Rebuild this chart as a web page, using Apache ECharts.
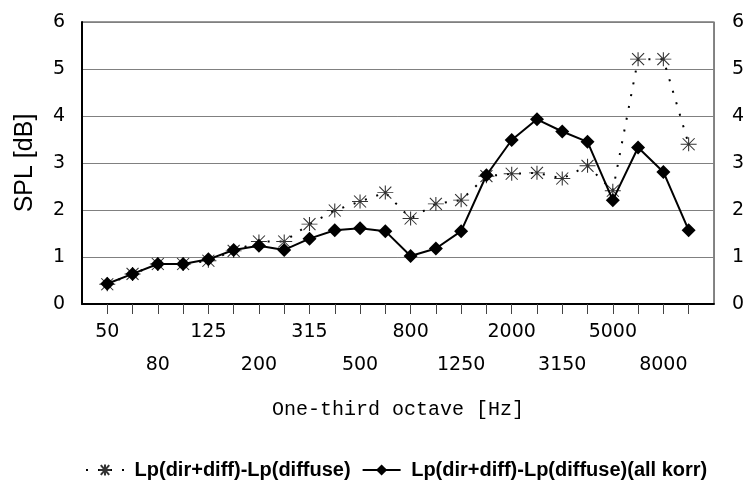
<!DOCTYPE html>
<html>
<head>
<meta charset="utf-8">
<script src="https://cdn.jsdelivr.net/npm/echarts@6/dist/echarts.min.js"></script>
<style>
  html, body { margin: 0; padding: 0; background: #fff; }
  #chart { width: 747px; height: 484px; }
</style>
</head>
<body>
<div id="chart"></div>
<script>
// One-third octave band centre frequencies [Hz]
const bands = ['50', '63', '80', '100', '125', '160', '200', '250', '315', '400', '500', '630',
  '800', '1000', '1250', '1600', '2000', '2500', '3150', '4000', '5000', '6300', '8000', '10000'];

// Level difference Lp(dir+diff) - Lp(diffuse) [dB]
const diffuseDelta = [0.42, 0.64, 0.85, 0.85, 0.92, 1.13, 1.33, 1.33, 1.70, 1.99, 2.18, 2.37,
  1.82, 2.13, 2.21, 2.72, 2.77, 2.79, 2.67, 2.94, 2.41, 5.21, 5.21, 3.40];

// Same difference with all corrections applied [dB]
const correctedDelta = [0.43, 0.64, 0.85, 0.85, 0.95, 1.15, 1.24, 1.15, 1.39, 1.57, 1.61, 1.55,
  1.02, 1.18, 1.55, 2.74, 3.49, 3.93, 3.67, 3.45, 2.21, 3.33, 2.81, 1.57];

const seriesNames = ['Lp(dir+diff)-Lp(diffuse)', 'Lp(dir+diff)-Lp(diffuse)(all korr)'];

// Axis carries an empty slot on each side so the bands sit inside the frame
const axisCats = [''].concat(bands, [' ']);
const lastSlot = axisCats.length - 1;

const toPoints = vals => vals.map((v, i) => [i + 1, v]);

// Eight-armed asterisk marker
const starPath = 'path://M0,7L16,7M8,0L8,14M2,1L14,13M14,1L2,13';

const tickFont = { fontFamily: 'DejaVu Sans', fontSize: 19, color: '#000' };

const chart = echarts.init(document.getElementById('chart'));
chart.setOption({
  animation: false,
  backgroundColor: '#fff',
  grid: {
    left: 82, right: 29, top: 22, bottom: 180,
    show: true, borderColor: '#333', borderWidth: 1
  },
  legend: {
    left: 80, top: 455,
    itemWidth: 38, itemHeight: 14, itemGap: 11,
    formatter: n => ' ' + n,
    textStyle: { fontFamily: 'Liberation Sans', fontWeight: 'bold', fontSize: 20, color: '#000' },
    data: seriesNames
  },
  xAxis: {
    type: 'category',
    data: axisCats,
    boundaryGap: false,
    axisLine: { lineStyle: { color: '#000', width: 2 } },
    axisTick: {
      interval: i => i > 0 && i < lastSlot,
      length: 10,
      lineStyle: { color: '#444', width: 1 }
    },
    axisLabel: Object.assign({}, tickFont, {
      interval: i => i > 0 && i < lastSlot && (i - 1) % 2 === 0,
      hideOverlap: false,
      margin: 12,
      lineHeight: 33,
      formatter: (v, i) => (((i - 1) / 2) % 2 === 1 ? '\n' + v : v)
    }),
    splitLine: { show: false },
    name: 'One-third octave [Hz]',
    nameLocation: 'middle',
    nameGap: 96,
    nameTextStyle: { fontFamily: 'Liberation Mono', fontSize: 20, color: '#000' }
  },
  yAxis: [
    {
      type: 'value', min: 0, max: 6, interval: 1,
      axisLine: { show: true, lineStyle: { color: '#000', width: 2 } },
      axisTick: { show: false },
      axisLabel: Object.assign({ margin: 17 }, tickFont),
      splitLine: { show: true, lineStyle: { color: '#808080', width: 1 } },
      name: 'SPL [dB]',
      nameLocation: 'middle',
      nameRotate: 90,
      nameGap: 44,
      nameTextStyle: { fontFamily: 'Liberation Sans', fontSize: 25, color: '#000' }
    },
    {
      type: 'value', min: 0, max: 6, interval: 1, position: 'right',
      axisLine: { show: true, lineStyle: { color: '#808080', width: 1 } },
      axisTick: { show: false },
      axisLabel: Object.assign({ margin: 18 }, tickFont),
      splitLine: { show: false }
    }
  ],
  series: [
    {
      name: seriesNames[0],
      type: 'line',
      data: toPoints(diffuseDelta),
      symbol: starPath,
      symbolSize: [16, 14],
      itemStyle: { color: 'rgba(0,0,0,0)', borderColor: '#333', borderWidth: 1 },
      lineStyle: { color: '#000', width: 2, type: [2, 10] },
      z: 2
    },
    {
      name: seriesNames[1],
      type: 'line',
      data: toPoints(correctedDelta),
      symbol: 'diamond',
      symbolSize: [14, 14],
      itemStyle: { color: '#000', borderWidth: 0 },
      lineStyle: { color: '#000', width: 2 },
      z: 3
    }
  ]
});
</script>
</body>
</html>
